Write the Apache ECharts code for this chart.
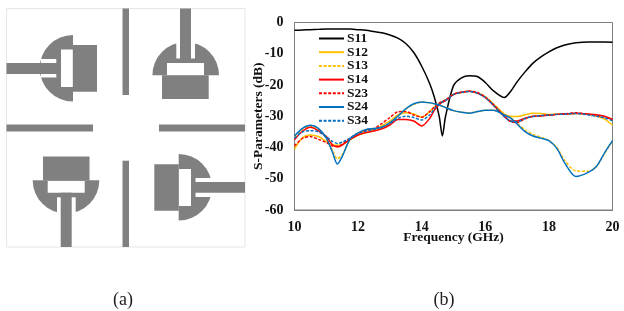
<!DOCTYPE html>
<html><head><meta charset="utf-8">
<style>html,body{margin:0;padding:0;background:#fff}#c{width:624px;height:311px}</style>
<script src="https://cdn.jsdelivr.net/npm/echarts@6/dist/echarts.min.js"></script>
</head><body><div id="c"></div>
<script>
const freq=[10,10.25,10.5,10.75,11,11.2,11.35,11.5,11.75,12,12.25,12.5,12.75,13,13.25,13.5,13.75,14,14.25,14.4,14.55,14.65,14.75,15,15.25,15.5,15.75,16,16.25,16.6,16.8,17,17.25,17.5,17.75,18,18.25,18.5,18.85,19.25,19.5,19.75,20];
const S11=[-2.5,-2.4,-2.3,-2.2,-2.1,-2.1,-2.1,-2.1,-2.1,-2.3,-2.5,-2.9,-3.3,-4,-5,-6.7,-9.6,-14,-19.5,-24,-30,-36.3,-30,-20.2,-17.7,-17,-17.3,-19.2,-21.8,-24,-22,-19,-15.8,-13,-11,-9.4,-8.1,-7.2,-6.5,-6.2,-6.2,-6.2,-6.3];
const S12=[-40.5,-36.9,-36,-36.5,-38.1,-39.2,-39.3,-39,-37.5,-36,-35.2,-34.4,-33,-31.5,-29.6,-28.9,-29.3,-30.3,-28.5,-27,-26,-25.4,-24.9,-23,-22.4,-22,-22.5,-23.8,-26,-29.3,-30,-30.1,-29.5,-29,-29.1,-29.4,-29.3,-29.3,-29.1,-29.4,-29.9,-30.9,-32.8];
const S13=[-36.6,-34.2,-33.2,-34.1,-37,-41,-43.6,-42.3,-37.5,-35.5,-34.4,-34,-33.6,-32.1,-30,-27.7,-26.2,-25.5,-25.7,-26,-26.4,-26.8,-27.2,-28.2,-28.7,-28.9,-28.5,-28.1,-28.1,-29.5,-30.5,-32.2,-34.4,-35.8,-36.7,-37.8,-40,-44.2,-47.5,-47.6,-46,-41.9,-37.9];
const S14=[-37.5,-34.8,-33.5,-34.6,-36.5,-39.2,-39.8,-39.2,-37.4,-36,-35.2,-34.7,-34,-32.8,-31,-31,-31.5,-33.1,-30.7,-28,-26.3,-25.5,-25,-23,-22.3,-22,-22.6,-24,-26.4,-30,-31.5,-31.5,-30.6,-30,-29.9,-29.7,-29.4,-29.3,-29,-29.3,-29.5,-30,-31];
const S23=[-39.5,-37.1,-36.5,-37.4,-38.4,-39.5,-39.6,-39,-37,-35.5,-34.5,-33.9,-32.3,-30.4,-28.6,-28.5,-29.6,-30.3,-28.5,-27,-25.8,-25.2,-24.8,-23,-22.3,-22,-22.4,-23.9,-26.2,-30,-31.8,-32,-30.8,-30,-29.8,-29.6,-29.4,-29.2,-28.9,-29.4,-29.8,-30.2,-31.2];
const S24=[-36.3,-33.9,-32.9,-33.9,-37,-41.7,-45.3,-42.9,-37.2,-35.3,-34.2,-33.9,-33.5,-32,-30,-27.6,-26,-25.4,-25.7,-26,-26.4,-26.8,-27.2,-28.2,-28.7,-29,-28.5,-28.1,-28.1,-29.6,-30.6,-32.5,-34.9,-36.3,-37,-37.8,-40.3,-45,-49.3,-47.9,-46,-41.7,-37.8];
const S34=[-37,-35,-34.6,-35,-36.5,-38.1,-38.7,-38.3,-37,-35.5,-34.7,-34.2,-33.4,-32.3,-30.7,-30,-30.4,-31.2,-29.6,-27.6,-26,-25.4,-24.9,-23.1,-22.4,-22.1,-22.6,-24,-26.4,-30.2,-31.6,-31.8,-30.7,-30.1,-29.8,-29.6,-29.4,-29.3,-29.1,-29.6,-30,-30.5,-31.5];
const legendNames=['S11','S12','S13','S14','S23','S24','S34'];
const SERIF='"Liberation Serif","Times New Roman",serif';
const GREY='#808080';

function rect(x1,y1,x2,y2,fill){return {type:'rect',shape:{x:x1,y:y1,width:x2-x1,height:y2-y1},style:{fill:fill||GREY},silent:true};}
function half(cx,cy,r,a,b){return {type:'sector',shape:{cx:cx,cy:cy,r:r,r0:0,startAngle:a,endAngle:b,clockwise:true},style:{fill:GREY},silent:true};}
const P=Math.PI;
const W='#ffffff';
const schematic=[
 {type:'rect',shape:{x:6.5,y:8.5,width:238.5,height:238.5},style:{fill:'#fff',stroke:'#e6e6e6',lineWidth:1},silent:true},
 rect(122.5,8.5,129,95), rect(122.5,160.7,129,247), rect(6.5,124.5,93,131.5), rect(159,124.5,245,131.5),
 half(73,68.3,33.3,P/2,3*P/2), rect(73,45,97,91.7), rect(41,59,56.3,77.5,W), rect(61,49.5,72.8,87,W), rect(6.5,63,61,74),
 half(185.7,75.3,33.3,P,2*P), rect(162,75.3,208.7,99), rect(176.3,40,195,58.5,W), rect(167,63,204,75,W), rect(180,8.5,191,63),
 half(66,180.3,33.3,0,P), rect(43,156.5,89.5,180.5), rect(57,197.3,75.7,214,W), rect(47.7,181,84.7,192.7,W), rect(60.7,192.7,71.7,247),
 half(178.7,187.3,33.3,-P/2,P/2), rect(154.3,164.3,178.8,210.7), rect(195.5,178,214,197,W), rect(179,169,191,206,W), rect(191,182,245,192.7),
 {type:'text',style:{x:123,y:300,text:'(a)',font:'18px '+SERIF,fill:'#222',textAlign:'center',textVerticalAlign:'middle'},silent:true},
 {type:'text',style:{x:444,y:300,text:'(b)',font:'18px '+SERIF,fill:'#222',textAlign:'center',textVerticalAlign:'middle'},silent:true}
];

function line(name,vals,color,dash){
 return {name:name,type:'line',data:freq.map((f,i)=>[f,vals[i]]),smooth:0.28,showSymbol:false,symbol:'none',
  lineStyle:{color:color,width:1.5,type:dash?[3,1.6]:'solid'},itemStyle:{color:color},z:3};
}
const chart=echarts.init(document.getElementById('c'),null,{renderer:'canvas'});
chart.setOption({
 animation:false,backgroundColor:'#fff',
 grid:{left:294.5,top:22.5,width:318,height:187.5,show:true,borderColor:'#7f7f7f',borderWidth:1,backgroundColor:'transparent'},
 legend:{show:true,orient:'vertical',left:318,top:31.5,itemWidth:25,itemHeight:12,itemGap:-0.3,padding:0,data:legendNames,
  itemStyle:{opacity:0},
  textStyle:{fontFamily:SERIF,fontWeight:'bold',fontSize:13.5,lineHeight:12,color:'#111',padding:[0,0,0,-2]}},
 xAxis:{type:'value',min:10,max:20,interval:2,name:'Frequency (GHz)',nameLocation:'middle',nameGap:21,nameMoveOverlap:false,
  nameTextStyle:{fontFamily:SERIF,fontWeight:'bold',fontSize:13.5,color:'#111'},
  axisLine:{show:true,onZero:false,lineStyle:{color:'#7f7f7f'}},axisTick:{show:false},splitLine:{show:false},
  axisLabel:{fontFamily:SERIF,fontWeight:'bold',fontSize:14,color:'#111',margin:10}},
 yAxis:{type:'value',min:-60,max:0,interval:10,name:'S-Parameters (dB)',nameLocation:'middle',nameGap:29,nameRotate:90,nameMoveOverlap:false,
  nameTextStyle:{fontFamily:SERIF,fontWeight:'bold',fontSize:13.5,color:'#111'},
  axisLine:{show:true,lineStyle:{color:'#7f7f7f'}},axisTick:{show:false},splitLine:{show:false},
  axisLabel:{fontFamily:SERIF,fontWeight:'bold',fontSize:14,color:'#111',margin:11}},
 graphic:{elements:schematic},
 series:[line('S11',S11,'#000000'),line('S12',S12,'#FFC000'),line('S13',S13,'#FFC000',true),line('S14',S14,'#FF0000'),line('S23',S23,'#FF0000',true),line('S24',S24,'#0070C0'),line('S34',S34,'#0070C0',true)]
});
</script></body></html>
